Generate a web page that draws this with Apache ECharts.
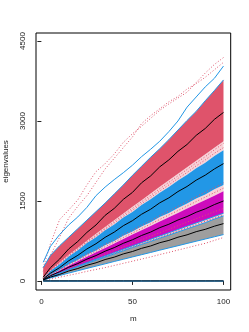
<!DOCTYPE html>
<html><head><meta charset="utf-8">
<script src="https://cdn.jsdelivr.net/npm/echarts@6/dist/echarts.min.js"></script>
<style>html,body{margin:0;padding:0;background:#fff}#c{width:249px;height:332px}</style>
</head><body><div id="c"></div>
<script>
// m values
const M = [1,5,10,15,20,25,30,35,40,45,50,55,60,65,70,75,80,85,90,95,100];
const xTicks = [0,50,100];
const yTicks = [0,1500,3000,4500];

// upper envelopes
const redDotHi = [250,700,1150,1330,1520,1800,2050,2200,2380,2600,2760,2900,3050,3200,3320,3430,3540,3720,3900,4060,4190];
const redDotLo = [180,480,820,1180,1400,1600,1850,2100,2300,2500,2700,2950,3100,3230,3360,3460,3600,3700,3820,3960,4100];
const blueHi   = [350,650,870,1050,1200,1380,1600,1760,1900,2030,2170,2330,2470,2620,2800,3000,3260,3450,3640,3800,4030];

// red group
const redTop  = [250,480,660,820,980,1140,1300,1460,1630,1800,1980,2150,2320,2480,2650,2830,3010,3180,3380,3570,3770];
const redMean = [70,250,410,600,740,910,1050,1230,1360,1530,1660,1840,1970,2140,2270,2430,2560,2730,2860,3030,3160];
const redBot  = [50,200,345,490,620,755,885,1010,1140,1265,1390,1515,1640,1765,1890,2010,2130,2255,2375,2500,2620];

// blue group
const blueTop  = [40,190,315,460,575,710,820,950,1060,1190,1295,1425,1530,1655,1760,1885,1990,2115,2215,2345,2450];
const blueMean = [37,145,250,378,480,600,698,818,915,1036,1130,1250,1345,1465,1558,1676,1772,1890,1984,2100,2200];
const blueBot  = [31,118,206,308,392,490,572,668,750,846,927,1021,1100,1197,1276,1370,1450,1545,1622,1718,1800];

// magenta group
const magTop  = [29,108,197,284,370,454,538,620,704,786,869,949,1032,1114,1194,1275,1357,1438,1519,1599,1680];
const magMean = [25,99,172,258,326,409,476,558,625,706,772,852,917,999,1063,1143,1208,1288,1352,1432,1500];
const magBot  = [22,81,149,215,279,343,406,469,532,594,657,718,780,842,903,964,1026,1087,1148,1209,1270];

// gray group
const grayTop  = [20,77,141,205,266,327,387,447,507,566,626,684,743,802,860,918,977,1035,1093,1160,1220];
const grayMean = [18,72,122,186,233,294,340,401,446,507,552,611,656,717,760,820,865,924,968,1027,1075];
const grayBot  = [15,56,102,147,191,235,278,321,365,407,450,492,534,577,619,660,703,745,786,828,870];

// dotted simulation paths between groups
const dotZ1a = [45,198,335,480,605,740,860,990,1115,1240,1360,1485,1605,1730,1850,1970,2090,2215,2330,2460,2580];
const dotZ1b = [42,192,325,468,590,722,840,966,1085,1208,1325,1448,1565,1688,1800,1922,2035,2158,2270,2395,2500];
const dotZ2a = [33,122,215,315,405,502,590,685,770,868,950,1045,1130,1225,1310,1400,1490,1580,1665,1750,1840];
const dotZ2b = [30,112,203,296,383,472,557,642,729,814,900,983,1068,1153,1237,1320,1405,1489,1573,1656,1740];
const dotZ3a = [24,88,160,232,300,370,438,505,572,640,706,772,838,905,970,1036,1102,1168,1233,1298,1360];
const dotZ3b = [21,79,145,210,272,334,396,457,518,579,640,700,760,821,881,940,1000,1060,1120,1180,1245];
const lowDot = [10,35,70,105,140,180,215,250,290,330,370,410,450,495,535,580,620,665,705,760,815];
const zeroLine = [0,0,0,0,0,0,0,0,0,0,0,0,0,0,0,0,0,0,0,0,0];

const RED = '#DF536B', BLUE = '#2297E6', MAG = '#CD0BBC', GRAY = '#9E9E9E', PINK = '#f7d2d8';

const zip = a => M.map((m, i) => [m, a[i]]);
function line(a, color, width, type, z) {
  return {type:'line', data: zip(a), symbol:'none', silent:true, z: z,
          lineStyle:{color: color, width: width, type: type}};
}
function band(lo, hi, color, z) {
  return {type:'custom', z: z, silent:true, clip:true,
    data: M.map((m, i) => [m, lo[i], hi[i]]),
    encode:{x:0, y:[1, 2]},
    renderItem: function (params, api) {
      if (params.dataIndex !== 0) return null;
      const pts = [];
      for (let i = 0; i < M.length; i++) pts.push(api.coord([M[i], hi[i]]));
      for (let i = M.length - 1; i >= 0; i--) pts.push(api.coord([M[i], lo[i]]));
      return {type:'polygon', shape:{points: pts}, style:{fill: color}};
    }};
}
const DOT = [1, 2];
const series = [
  band(blueTop, redBot, PINK, 1),
  band(magTop, blueBot, PINK, 1),
  band(grayTop, magBot, PINK, 1),
  band(redBot, redTop, RED, 2),
  band(blueBot, blueTop, BLUE, 2),
  band(magBot, magTop, MAG, 2),
  band(grayBot, grayTop, GRAY, 2),
  line(dotZ1a, RED, 1, DOT, 3), line(dotZ1b, RED, 1, DOT, 3),
  line(dotZ2a, RED, 1, DOT, 3), line(dotZ2b, RED, 1, DOT, 3),
  line(dotZ3a, RED, 1, DOT, 3), line(dotZ3b, RED, 1, DOT, 3),
  line(lowDot, RED, 1, DOT, 3),
  line(redDotHi, RED, 1, DOT, 3), line(redDotLo, RED, 1, DOT, 3),
  line(blueHi, BLUE, 1, 'solid', 4),
  line(redTop, BLUE, 1, 'solid', 4),
  line(magBot, BLUE, 1, 'solid', 4),
  line(grayTop, BLUE, 1, 'solid', 4),
  line(grayBot, BLUE, 1, 'solid', 4),
  line(zeroLine, BLUE, 1.5, 'solid', 4),
  line(redMean, '#000', 1, 'solid', 5),
  line(blueMean, '#000', 1, 'solid', 5),
  line(magMean, '#000', 1, 'solid', 5),
  line(grayMean, '#000', 1, 'solid', 5),
  line(zeroLine, '#000', 1, 'solid', 5)
];

const FONT = 'Liberation Sans, Arial, sans-serif';
const chart = echarts.init(document.getElementById('c'), null, {renderer:'canvas'});
chart.setOption({
  animation:false,
  backgroundColor:'#fff',
  grid:{left:36, right:18.3, top:33, bottom:42, show:true, borderColor:'#000', borderWidth:1,
        backgroundColor:'transparent', containLabel:false, outerBoundsMode:'none'},
  xAxis:{type:'value', min:-2.96, max:103.96,
    name:'m', nameLocation:'middle', nameGap:25,
    nameTextStyle:{fontFamily:FONT, fontSize:8, color:'#222'},
    axisLine:{show:false}, splitLine:{show:false},
    axisTick:{show:true, length:4, customValues:xTicks, lineStyle:{color:'#222'}},
    axisLabel:{customValues:xTicks, margin:8, fontFamily:FONT, fontSize:8, color:'#222', formatter: v => String(v)}},
  yAxis:{type:'value', min:-170, max:4650,
    name:'eigenvalues', nameLocation:'middle', nameGap:26,
    nameTextStyle:{fontFamily:FONT, fontSize:8, color:'#222'},
    axisLine:{show:false}, splitLine:{show:false},
    axisTick:{show:true, length:4, customValues:yTicks, lineStyle:{color:'#222'}},
    axisLabel:{customValues:yTicks, rotate:90, margin:9, fontFamily:FONT, fontSize:8, color:'#222', formatter: v => String(v)}},
  series: series
});
</script></body></html>
